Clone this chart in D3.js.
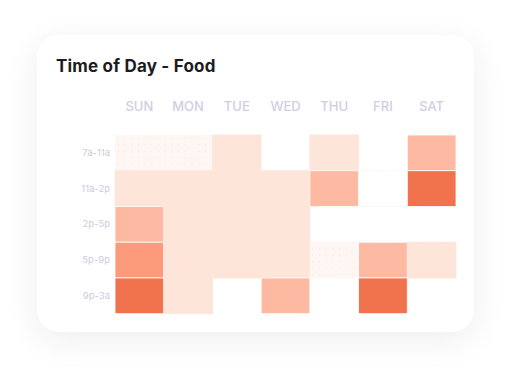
<!DOCTYPE html>
<html>
<head>
<meta charset="utf-8">
<script src="https://cdn.jsdelivr.net/npm/d3@7"></script>
<style>
  html, body { margin: 0; padding: 0; background: #fff; }
  body { width: 512px; height: 372px; position: relative; overflow: hidden; }
  .card {
    position: absolute; left: 37px; top: 35px; width: 437px; height: 297px;
    background: #fff; border-radius: 22px;
    box-shadow: 0 8px 34px rgba(40, 40, 70, 0.08);
  }
  svg { position: absolute; left: 0; top: 0; }
</style>
</head>
<body>
<div class="card"></div>
<svg id="chart" width="512" height="372"></svg>
<script>
// data: days across, time slots down; 0 = nothing, 1 = trace, 2..5 = more orders
const days = ["SUN", "MON", "TUE", "WED", "THU", "FRI", "SAT"];
const slots = ["7a-11a", "11a-2p", "2p-5p", "5p-9p", "9p-3a"];
const values = [
  [1, 1, 2, 0, 2, 0, 3],
  [2, 2, 2, 2, 3, 0, 5],
  [3, 2, 2, 2, 0, 0, 0],
  [4, 2, 2, 2, 1, 3, 2],
  [5, 2, 0, 3, 0, 5, 0]
];
const levelColors = ["none", "url(#dots)", "#fde5d9", "#fdb9a2", "#fc9b7c", "#f0734d"];

const svg = d3.select("#chart");

// dotted fill for the "trace" cells
const pat = svg.append("defs").append("pattern")
  .attr("id", "dots")
  .attr("patternUnits", "userSpaceOnUse")
  .attr("x", 115).attr("y", 135)
  .attr("width", 6.7).attr("height", 6.5);
pat.append("rect").attr("width", 6.7).attr("height", 6.5).attr("fill", "#fdf6f2");
pat.append("circle").attr("cx", 3.3).attr("cy", 3.2).attr("r", 0.45).attr("fill", "#ead8ce");

svg.append("text")
  .attr("x", 56).attr("y", 72)
  .attr("font-family", "Inter, 'Open Sans', sans-serif")
  .attr("font-weight", 700)
  .attr("font-size", 17)
  .attr("letter-spacing", 0.2)
  .attr("fill", "#1c1c22")
  .text("Time of Day - Food");

const x = d3.scaleBand().domain(days).range([115, 456]).padding(0);
const y = d3.scaleBand().domain(slots).range([135, 313.7]).padding(0);
const color = d3.scaleOrdinal().domain(d3.range(levelColors.length)).range(levelColors);

// day labels
svg.append("g")
  .attr("transform", "translate(0,106)")
  .call(d3.axisTop(x).tickSize(0).tickPadding(0))
  .call(g => g.select(".domain").remove())
  .selectAll("text")
  .attr("font-family", "Inter, 'Open Sans', sans-serif")
  .attr("font-size", 13)
  .attr("font-weight", 500)
  .attr("fill", "#d0cee0")
  .attr("dy", "0.4em");

// slot labels
svg.append("g")
  .attr("transform", "translate(110,0)")
  .call(d3.axisLeft(y).tickSize(0).tickPadding(0))
  .call(g => g.select(".domain").remove())
  .selectAll("text")
  .attr("font-family", "Inter, 'Open Sans', sans-serif")
  .attr("font-size", 9.5)
  .attr("fill", "#cecbda");

const cells = [];
values.forEach((row, i) => row.forEach((v, j) => cells.push({ slot: slots[i], day: days[j], v })));

// faint row separators
svg.append("g").selectAll("line")
  .data(slots.slice(1))
  .join("line")
  .attr("x1", x.range()[0]).attr("x2", x.range()[1])
  .attr("y1", d => y(d)).attr("y2", d => y(d))
  .attr("stroke", "#f1eff6")
  .attr("stroke-width", 1)
  .attr("stroke-dasharray", "1.5,1.5");

svg.append("g").selectAll("rect")
  .data(cells.filter(d => d.v > 0))
  .join("rect")
  .attr("x", d => x(d.day))
  .attr("y", d => y(d.slot))
  .attr("width", x.bandwidth())
  .attr("height", y.bandwidth())
  .attr("fill", d => color(d.v))
  .attr("stroke", d => d.v === 1 ? "none" : d.v === 2 ? "#fde5d9" : "#fff")
  .attr("stroke-width", 0.8);
</script>
</body>
</html>
